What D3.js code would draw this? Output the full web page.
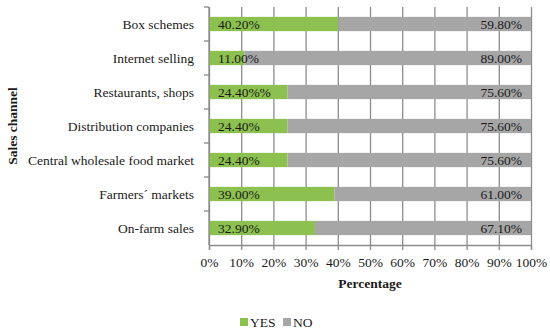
<!DOCTYPE html>
<html><head>
<meta charset="utf-8">
<script src="https://d3js.org/d3.v7.min.js"></script>
</head>
<body style="margin:0; background:#fff">
<svg id="chart" width="550" height="333" font-family="Liberation Serif" fill="#1a1a1a"></svg>
<script>
// data, top row first
const channels = ["Box schemes", "Internet selling", "Restaurants, shops", "Distribution companies",
                  "Central wholesale food market", "Farmers\u00b4 markets", "On-farm sales"];
const yesValues = [40.2, 11.0, 24.4, 24.4, 24.4, 39.0, 32.9];
const noValues  = [59.8, 89.0, 75.6, 75.6, 75.6, 61.0, 67.1];
const yesLabels = ["40.20%", "11.00%", "24.40%%", "24.40%", "24.40%", "39.00%", "32.90%"];
const noLabels  = ["59.80%", "89.00%", "75.60%", "75.60%", "75.60%", "61.00%", "67.10%"];
const xTicks = [0, 10, 20, 30, 40, 50, 60, 70, 80, 90, 100];

const FONT = "Liberation Serif";
const FS = 13.5;
const AXIS_GREY = "#8c8c8c";

const svg = d3.select("svg#chart");
const margins = {top: 7, left: 209, right: 19, bottom: 88};
const chartWidth = 550 - margins.left - margins.right;
const chartHeight = 333 - margins.top - margins.bottom;

const xScale = d3.scaleLinear().domain([0, 100]).range([0, chartWidth]);
const yScale = d3.scaleBand().domain(channels).range([0, chartHeight]).paddingInner(0.58).paddingOuter(0.29);
const bandScale = d3.scaleBand().domain(channels).range([0, chartHeight]);

let plot = svg.append("g").attr("transform", "translate(" + margins.left + "," + margins.top + ")");

// vertical gridlines
let grid = plot.append("g")
    .attr("transform", "translate(0," + chartHeight + ")")
    .call(d3.axisBottom(xScale).tickValues(xTicks).tickFormat("").tickSize(-chartHeight));
grid.select(".domain").remove();
grid.selectAll("line").attr("stroke", AXIS_GREY).attr("stroke-width", 1.3);

const rows = channels.map((c, i) => ({name: c, yes: yesValues[i], no: noValues[i], yl: yesLabels[i], nl: noLabels[i]}));

plot.selectAll("rect.yes").data(rows).join("rect")
    .attr("class", "yes")
    .attr("x", xScale(0))
    .attr("y", d => yScale(d.name))
    .attr("width", d => xScale(d.yes) - xScale(0))
    .attr("height", yScale.bandwidth())
    .attr("fill", "#8cc04f");

plot.selectAll("rect.no").data(rows).join("rect")
    .attr("class", "no")
    .attr("x", d => xScale(d.yes))
    .attr("y", d => yScale(d.name))
    .attr("width", d => xScale(d.yes + d.no) - xScale(d.yes))
    .attr("height", yScale.bandwidth())
    .attr("fill", "#a6a6a6");

plot.selectAll("text.yl").data(rows).join("text")
    .attr("class", "yl")
    .attr("x", xScale(0) + 9)
    .attr("y", d => yScale(d.name) + yScale.bandwidth() / 2)
    .attr("dy", "0.35em")
    .attr("font-family", FONT)
    .attr("font-size", FS)
    .attr("fill", "#1a1a1a")
    .text(d => d.yl);

plot.selectAll("text.nl").data(rows).join("text")
    .attr("class", "nl")
    .attr("x", xScale(100) - 9)
    .attr("y", d => yScale(d.name) + yScale.bandwidth() / 2)
    .attr("dy", "0.35em")
    .attr("text-anchor", "end")
    .attr("font-family", FONT)
    .attr("font-size", FS)
    .attr("fill", "#1a1a1a")
    .text(d => d.nl);

// left axis with ticks between categories
let leftAxis = plot.append("g");
leftAxis.append("line")
    .attr("x1", 0).attr("x2", 0).attr("y1", 0).attr("y2", chartHeight)
    .attr("stroke", AXIS_GREY).attr("stroke-width", 1.3);
leftAxis.selectAll("line.tk").data(channels).join("line")
    .attr("class", "tk")
    .attr("x1", -5).attr("x2", 0)
    .attr("y1", d => bandScale(d)).attr("y2", d => bandScale(d))
    .attr("stroke", AXIS_GREY).attr("stroke-width", 1.3);
leftAxis.selectAll("text").data(channels).join("text")
    .attr("x", -15)
    .attr("y", d => yScale(d) + yScale.bandwidth() / 2)
    .attr("dy", "0.35em")
    .attr("text-anchor", "end")
    .attr("font-family", FONT)
    .attr("font-size", FS)
    .attr("fill", "#1a1a1a")
    .text(d => d);

// bottom axis
let bottomAxis = d3.axisBottom(xScale).tickValues(xTicks).tickSize(5).tickPadding(7).tickFormat(d => d + "%");
let xAxisG = plot.append("g")
    .attr("transform", "translate(0," + chartHeight + ")")
    .call(bottomAxis)
    .attr("font-family", FONT)
    .attr("font-size", FS);
xAxisG.select(".domain").attr("stroke", AXIS_GREY).attr("stroke-width", 1.3);
xAxisG.selectAll(".tick line").attr("stroke", AXIS_GREY).attr("stroke-width", 1.3);
xAxisG.selectAll(".tick text").attr("fill", "#1a1a1a");

// titles
svg.append("text")
   .attr("x", margins.left + chartWidth / 2)
   .attr("y", 288)
   .attr("text-anchor", "middle")
   .attr("font-family", FONT)
   .attr("font-size", FS)
   .attr("font-weight", "bold")
   .attr("fill", "#1a1a1a")
   .text("Percentage");

svg.append("text")
   .attr("transform", "translate(17," + (margins.top + chartHeight / 2) + ") rotate(-90)")
   .attr("text-anchor", "middle")
   .attr("font-family", FONT)
   .attr("font-size", FS)
   .attr("font-weight", "bold")
   .attr("fill", "#1a1a1a")
   .text("Sales channel");

// legend
const legendItems = [{label: "YES", color: "#8cc04f", x: 240}, {label: "NO", color: "#a6a6a6", x: 283}];
let legend = svg.append("g");
legend.selectAll("rect").data(legendItems).join("rect")
      .attr("x", d => d.x).attr("y", 318).attr("width", 8).attr("height", 8)
      .attr("fill", d => d.color);
legend.selectAll("text").data(legendItems).join("text")
      .attr("x", d => d.x + 10).attr("y", 322)
      .attr("dy", "0.35em")
      .attr("font-family", FONT)
      .attr("font-size", FS)
      .attr("fill", "#1a1a1a")
      .text(d => d.label);
</script>
</body>
</html>
